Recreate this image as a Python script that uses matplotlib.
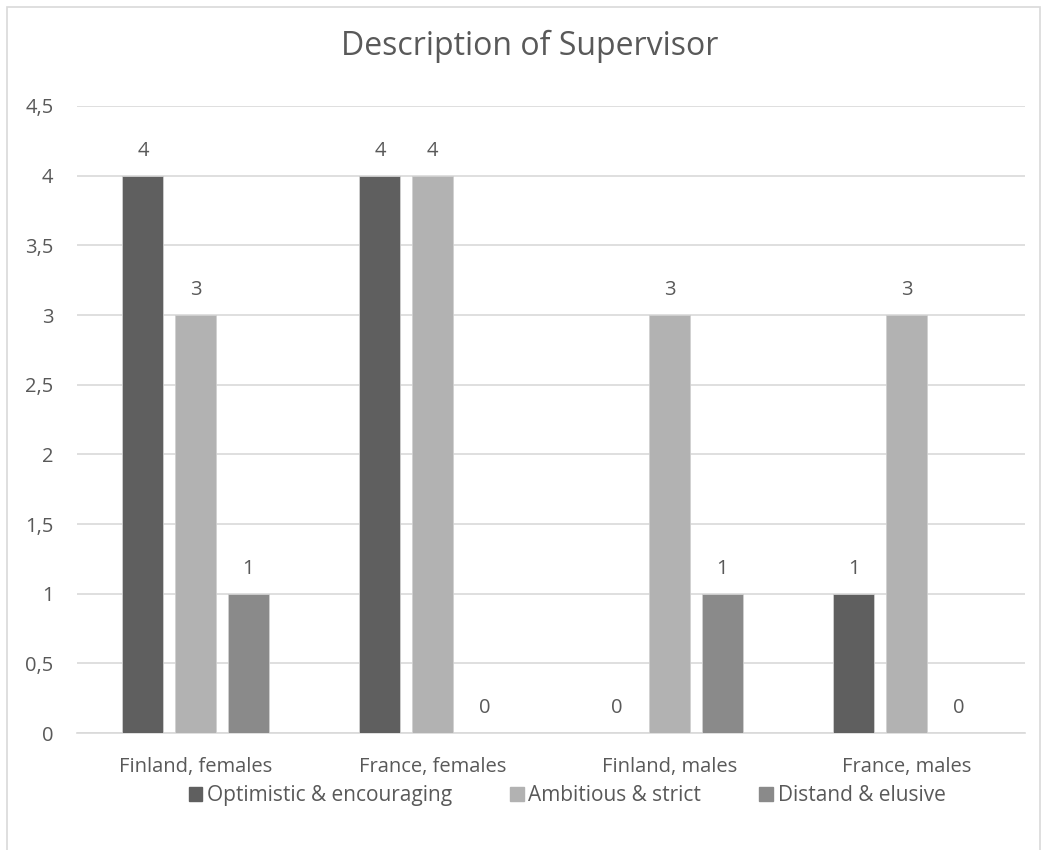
import matplotlib
matplotlib.use("Agg")
import matplotlib.pyplot as plt
import matplotlib.patches as mpatches
import numpy as np

# ── Données ───────────────────────────────────────────────
categories = ["Finland, females", "France, females", "Finland, males", "France, males"]
series     = ["Optimistic & encouraging", "Ambitious & strict", "Distand & elusive"]
optimistic = [4, 4, 0, 1]
ambitious  = [3, 4, 3, 3]
distand    = [1, 0, 1, 0]
yticks     = [0, 0.5, 1, 1.5, 2, 2.5, 3, 3.5, 4, 4.5]

COLORS   = ["#5f5f5f", "#b2b2b2", "#8a8a8a"]
TXT      = "#595959"
GRID     = "#d9d9d9"
FS       = 14.5
plt.rcParams["font.family"] = ["Open Sans", "DejaVu Sans"]

fig = plt.figure(figsize=(10.48, 8.5), dpi=100)
ax = fig.add_axes([0.0735, 0.1376, 0.9045, 0.7377])

# cadre du graphique
fig.patches.append(mpatches.Rectangle((7/1048, -0.05), 1033/1048, 1.05 - 7/850,
                                      transform=fig.transFigure, fill=False,
                                      edgecolor="#d9d9d9", linewidth=1.2))

x = np.arange(len(categories))
w, step = 0.173, 0.222
for i, (vals, col, lab) in enumerate(zip([optimistic, ambitious, distand], COLORS, series)):
    pos = x + (i - 1) * step
    ax.bar(pos, vals, width=w, color=col, label=lab, edgecolor="#d0d0d0", linewidth=0.6, zorder=3)
    for p, v in zip(pos, vals):
        ax.text(p, v + 0.18, f"{v}", ha="center", va="center", fontsize=FS, color=TXT)

ax.set_xlim(-0.5, len(categories) - 0.5)
ax.set_ylim(0, 4.5)
ax.set_yticks(yticks)
ax.set_yticklabels([f"{t:g}".replace(".", ",") for t in yticks], fontsize=FS, color=TXT)
ax.set_xticks(x)
ax.set_xticklabels(categories, fontsize=FS, color=TXT)
ax.tick_params(length=0)
ax.tick_params(axis="x", pad=17)
ax.tick_params(axis="y", pad=17)
ax.yaxis.grid(True, color=GRID, linewidth=1.2, zorder=0)
for s in ["top", "right", "left"]:
    ax.spines[s].set_visible(False)
ax.spines["bottom"].set_color(GRID)
ax.spines["bottom"].set_linewidth(1.2)

fig.text(0.505, 0.945, "Description of Supervisor", ha="center", va="center",
         fontsize=23, color=TXT)

handles = [mpatches.Patch(color=c, label=l) for c, l in zip(COLORS, series)]
fig.legend(handles=handles, loc="center", bbox_to_anchor=(0.541, 0.064), ncol=3,
           frameon=False, fontsize=15, handlelength=0.67, handleheight=0.67,
           handletextpad=0.2, columnspacing=2.8, labelcolor=TXT)

fig.savefig("out.png", dpi=100)
